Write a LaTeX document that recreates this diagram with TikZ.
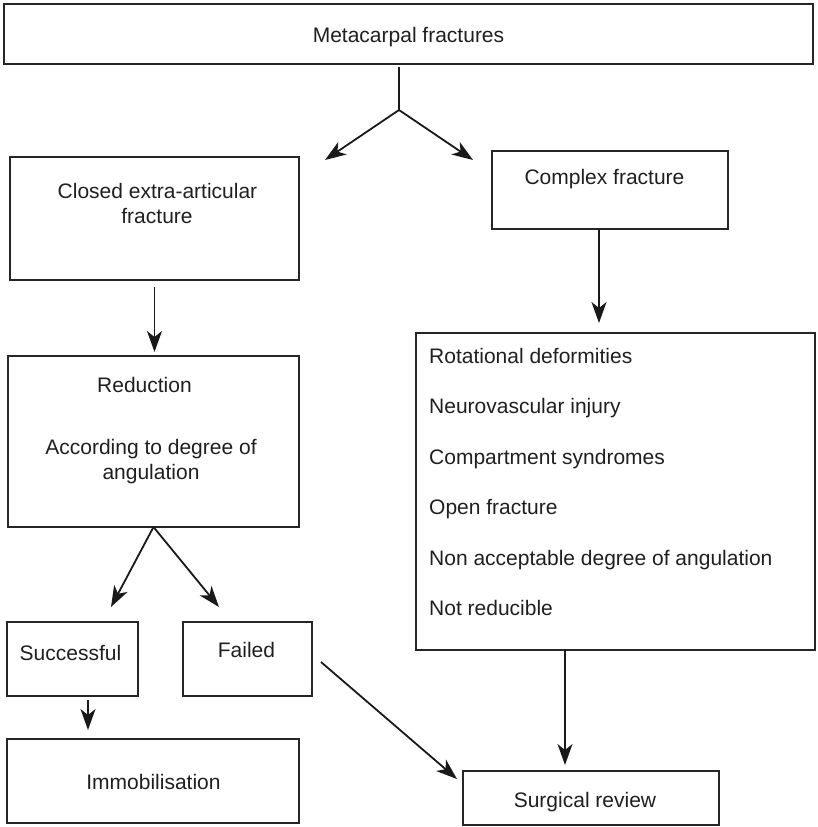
\documentclass[tikz,border=0pt]{standalone}
\usepackage{fontspec}
\setmainfont{Liberation Sans}
\usetikzlibrary{arrows.meta}
\begin{document}
\begin{tikzpicture}[x=1pt,y=-1pt,
  box/.style={draw, line width=1.9pt, rectangle, inner sep=0pt, outer sep=0pt, anchor=north west, draw=black!85},
  lbl/.style={anchor=base, inner sep=0pt, font=\fontsize{21}{25}\selectfont, text=black!88},
  lblL/.style={lbl, anchor=base west},
  arrow/.style={line width=1.8pt, draw=black!90, -{Stealth[length=21pt,width=15pt,inset=6pt]}},
  link/.style={line width=1.8pt, draw=black!90}]
\useasboundingbox (0,0) rectangle (818,827);

% boxes
\node[box, minimum width=809pt, minimum height=60pt]  (meta)      at (4,4)     {};
\node[box, minimum width=289pt, minimum height=123pt] (closed)    at (10,157)  {};
\node[box, minimum width=236pt, minimum height=78pt]  (complex)   at (492,151) {};
\node[box, minimum width=291pt, minimum height=171pt] (reduction) at (8,356)   {};
\node[box, minimum width=399pt, minimum height=317pt] (signs)     at (416,333) {};
\node[box, minimum width=131pt, minimum height=74pt]  (success)   at (7,622)   {};
\node[box, minimum width=129pt, minimum height=74pt]  (failed)    at (183,622) {};
\node[box, minimum width=292pt, minimum height=84pt]  (immob)     at (7,739)   {};
\node[box, minimum width=256pt, minimum height=54pt]  (surgery)   at (463,771) {};

% labels
\node[lbl] (tMeta)  at (408.5,42) {Metacarpal fractures};
\node[lbl] (tClosed1) at (157.5,198) {Closed extra-articular};
\node[lbl] (tClosed2) at (157,223) {fracture};
\node[lbl] (tComplex) at (604.5,184) {Complex fracture};
\node[lbl] (tRed1) at (144.5,392) {Reduction};
\node[lbl] (tRed2) at (151,454) {According to degree of};
\node[lbl] (tRed3) at (151,479) {angulation};
\node[lblL] (s1) at (429,363)   {Rotational deformities};
\node[lblL] (s2) at (429,413.5) {Neurovascular injury};
\node[lblL] (s3) at (429,464)   {Compartment syndromes};
\node[lblL] (s4) at (429,514.5) {Open fracture};
\node[lblL] (s5) at (429,565)   {Non acceptable degree of angulation};
\node[lblL] (s6) at (429,615.5) {Not reducible};
\node[lbl] (tSuccess) at (70.5,660) {Successful};
\node[lbl] (tFailed)  at (246.5,657) {Failed};
\node[lbl] (tImmob)   at (153.5,789) {Immobilisation};
\node[lbl] (tSurgery) at (585,807) {Surgical review};

% connectors
\coordinate (split) at (399,110);
\coordinate (toClosed) at (325,160);
\coordinate (toComplex) at (473,160);
\draw[link, shorten <=3pt] (meta.south -| split) -- (split);
\draw[arrow] (split) -- (toClosed);
\draw[arrow] (split) -- (toComplex);

\draw[arrow, shorten <=7pt, shorten >=4pt] (closed.south) -- (closed.south |- reduction.north);

\coordinate (cdrop) at (599,0);
\draw[arrow, shorten >=10pt] (complex.south -| cdrop) -- (signs.north -| cdrop);

\coordinate (toSuccess) at (111,607);
\coordinate (toFailed) at (219,607);
\draw[arrow] (reduction.south) -- (toSuccess);
\draw[arrow] (reduction.south) -- (toFailed);

\coordinate (sdrop) at (88,0);
\draw[arrow, shorten <=4pt, shorten >=9pt] (success.south -| sdrop) -- (immob.north -| sdrop);

\coordinate (fStart) at (321,662);
\coordinate (fEnd) at (457,779);
\draw[arrow] (fStart) -- (fEnd);

\coordinate (rdrop) at (565,0);
\draw[arrow, shorten >=6pt] (signs.south -| rdrop) -- (surgery.north -| rdrop);
\end{tikzpicture}
\end{document}
